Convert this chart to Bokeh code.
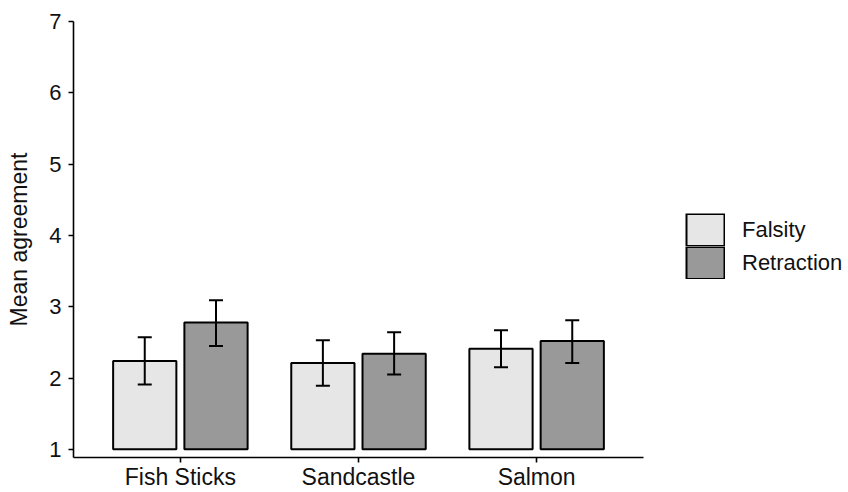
from bokeh.plotting import figure
from bokeh.models import (ColumnDataSource, Range1d, FixedTicker, Whisker, TeeHead,
                          Legend, LegendItem)
from bokeh.transform import dodge
from bokeh.embed import file_html
from bokeh.resources import INLINE

categories = ["Fish Sticks", "Sandcastle", "Salmon"]
falsity = [2.24, 2.21, 2.41]
falsity_lower = [1.91, 1.89, 2.15]
falsity_upper = [2.57, 2.53, 2.67]
retraction = [2.78, 2.34, 2.52]
retraction_lower = [2.45, 2.05, 2.21]
retraction_upper = [3.09, 2.64, 2.81]
y_ticks = [1, 2, 3, 4, 5, 6, 7]
group_labels = ["Falsity", "Retraction"]
group_colors = ["#E6E6E6", "#999999"]

FONT = "Liberation Sans"

W, H = 848, 492
LEFT, TOP, BOTTOM = 73, 21, 32
AXIS_END_PX = 643                      # where the x axis line stops
X0, X1 = 0.4, 3.6                      # visible category axis extent
px_per_unit = (AXIS_END_PX - LEFT) / (X1 - X0)
x_frame_end = X0 + (W - LEFT) / px_per_unit   # frame runs on under the legend

src = ColumnDataSource(dict(
    x=list(range(1, len(categories) + 1)),
    falsity=falsity, f_lo=falsity_lower, f_hi=falsity_upper,
    retraction=retraction, r_lo=retraction_lower, r_hi=retraction_upper,
))

p = figure(width=W, height=H, output_backend="svg", toolbar_location=None,
           x_range=Range1d(X0, x_frame_end), y_range=Range1d(0.885, 7.0),
           min_border_left=LEFT, min_border_top=TOP, min_border_right=0,
           min_border_bottom=BOTTOM)
p.outline_line_color = None
p.xgrid.visible = False
p.ygrid.visible = False
p.background_fill_color = "white"
p.border_fill_color = "white"

r_f = p.vbar(x=dodge("x", -0.2), top="falsity", bottom=1, width=0.355, source=src,
             fill_color=group_colors[0], line_color="black", line_width=2)
r_r = p.vbar(x=dodge("x", 0.2), top="retraction", bottom=1, width=0.355, source=src,
             fill_color=group_colors[1], line_color="black", line_width=2)

for xoff, lo, hi in [(-0.2, "f_lo", "f_hi"), (0.2, "r_lo", "r_hi")]:
    w = Whisker(source=src, base=dodge("x", xoff), lower=lo, upper=hi,
                dimension="height", line_color="black", line_width=2,
                level="annotation",
                upper_head=TeeHead(size=14, line_width=2, line_color="black"),
                lower_head=TeeHead(size=14, line_width=2, line_color="black"))
    p.add_layout(w)

# axes
p.xaxis.ticker = FixedTicker(ticks=src.data["x"])
p.xaxis.major_label_overrides = {i + 1: c for i, c in enumerate(categories)}
p.xaxis.bounds = (X0, X1)
p.yaxis.ticker = FixedTicker(ticks=y_ticks)
for ax in (p.xaxis[0], p.yaxis[0]):
    ax.axis_line_color = "black"
    ax.axis_line_width = 1.6
    ax.major_tick_line_color = "black"
    ax.major_tick_line_width = 1.6
    ax.major_tick_out = 5
    ax.major_tick_in = 0
    ax.minor_tick_line_color = None
    ax.major_label_text_font = FONT
    ax.major_label_text_color = "#111111"
p.xaxis.major_label_text_font_size = "23px"
p.xaxis.major_label_standoff = 1
p.yaxis.major_label_text_font_size = "22px"
p.yaxis.major_label_standoff = 7
p.yaxis.axis_label = "Mean agreement"
p.yaxis.axis_label_text_font = FONT
p.yaxis.axis_label_text_font_size = "23px"
p.yaxis.axis_label_text_font_style = "normal"
p.yaxis.axis_label_text_color = "#111111"
p.yaxis.axis_label_standoff = 14

# legend keys: filled boxes with a black border that touch each other.
# outer = black band filling the key, inner = coloured band inset by a dash gap.
# (key-only line renderers hold a single NaN so they draw nothing in the plot)
KEY_W, KEY_H = 40, 33
nan = float("nan")
items = []
for label, color in zip(group_labels, group_colors):
    key_src = ColumnDataSource(dict(x=[nan], y=[nan]))
    outer = p.line(x="x", y="y", source=key_src, line_color="black",
                   line_width=KEY_H, line_cap="butt")
    inner = p.line(x="x", y="y", source=key_src, line_color=color,
                   line_width=KEY_H - 3, line_cap="butt",
                   line_dash="36 4", line_dash_offset=38)
    items.append(LegendItem(label=label, renderers=[outer, inner]))

legend = Legend(items=items, location=(612, 178), glyph_width=KEY_W, glyph_height=KEY_H,
                spacing=0, padding=0, margin=0, label_standoff=17,
                label_text_font=FONT, label_text_font_size="22px",
                label_text_color="#111111",
                background_fill_alpha=0, border_line_color=None)
p.add_layout(legend, "center")

open("out.html", "w").write(file_html(p, INLINE))
